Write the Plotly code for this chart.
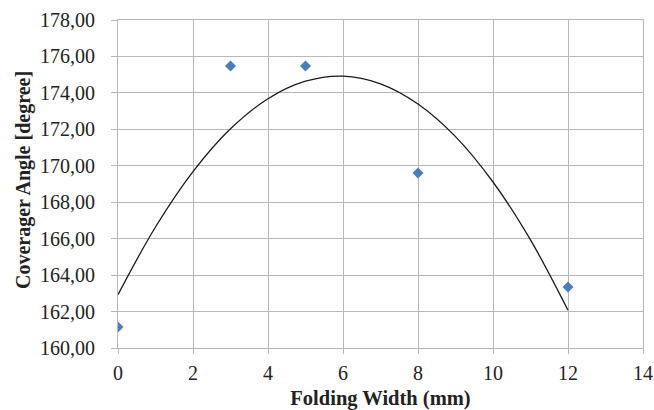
import plotly.graph_objects as go

# Measured data points
folding_width = [0, 3, 5, 8, 12]
coverage_angle = [161.15, 175.48, 175.48, 169.60, 163.35]

# Polynomial trend line
trend_x = [0, 1, 2, 3, 4, 5, 6, 7, 8, 9, 10, 11, 12]
trend_y = [162.93, 166.64, 169.68, 172.03, 173.68, 174.64, 174.92,
           174.50, 173.39, 171.60, 169.11, 165.93, 162.07]

y_ticks = [160, 162, 164, 166, 168, 170, 172, 174, 176, 178]
y_tick_labels = [f"{v},00" for v in y_ticks]
x_ticks = [0, 2, 4, 6, 8, 10, 12, 14]

fig = go.Figure()
fig.add_trace(go.Scatter(
    x=trend_x, y=trend_y, mode="lines", line=dict(color="#1a1a1a", width=1.3, shape="spline"),
    hoverinfo="skip", showlegend=False))
fig.add_trace(go.Scatter(
    x=folding_width, y=coverage_angle, mode="markers",
    marker=dict(symbol="diamond", size=8.5, color="#4a7ebb"), showlegend=False))

font = "Liberation Serif, Times New Roman, serif"
fig.update_layout(
    width=654, height=410,
    margin=dict(l=118, r=11, t=20, b=62),
    paper_bgcolor="white", plot_bgcolor="white",
    font=dict(family=font, color="#222"),
    xaxis=dict(range=[0, 14], tickvals=x_ticks, showgrid=True, gridcolor="#b8b8b8", gridwidth=1,
               zeroline=False, showline=True, linecolor="#b8b8b8", mirror=True,
               ticks="outside", ticklen=5, tickcolor="#b8b8b8", automargin=False,
               ticklabelstandoff=2,
               tickfont=dict(size=20, family=font),
               title=dict(text="<b>Folding Width (mm)</b>", font=dict(size=20.5, family=font), standoff=10)),
    yaxis=dict(range=[160, 178], tickvals=y_ticks, ticktext=y_tick_labels, showgrid=True,
               gridcolor="#b8b8b8", gridwidth=1, zeroline=False, showline=True, linecolor="#b8b8b8",
               mirror=True, ticks="outside", ticklen=6, tickcolor="#b8b8b8", automargin=False,
               ticklabelstandoff=12,
               tickfont=dict(size=20, family=font)),
    annotations=[dict(text="<b>Coverager Angle [degree]</b>", textangle=-90,
                      xref="paper", yref="paper", x=0, y=0.5, xanchor="center", yanchor="middle",
                      xshift=-95, yshift=4, showarrow=False,
                      font=dict(size=20, family=font, color="#222"))],
)
fig.write_html("out.html", config={"displayModeBar": False},
               post_script="document.body.style.margin='0';document.body.style.overflow='hidden';")
